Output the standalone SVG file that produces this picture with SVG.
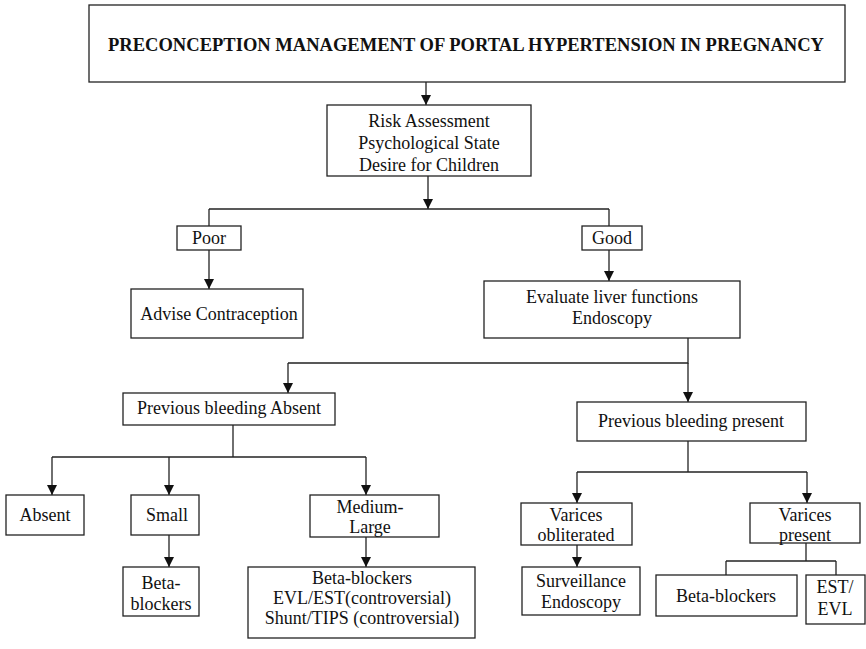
<svg xmlns="http://www.w3.org/2000/svg" width="866" height="649" viewBox="0 0 866 649">
<defs>
<marker id="ah" viewBox="0 0 10 10" refX="10" refY="5" markerWidth="10" markerHeight="10" markerUnits="userSpaceOnUse" orient="auto">
<path d="M0,0 L10,5 L0,10 Z" fill="#111"/>
</marker>
<style>
rect{fill:#fff;stroke:#222;stroke-width:1.3}
text{font-family:"Liberation Serif","Times New Roman",serif;font-size:18px;fill:#111;text-anchor:middle}
.t{font-weight:bold;font-size:19px}
#connectors path{fill:none;stroke:#222;stroke-width:1.3}
.a{marker-end:url(#ah)}
</style>
</defs>
<rect x="0" y="0" width="866" height="649" style="fill:#fff;stroke:none"/>
<g id="connectors">
<path class="a" d="M426,82 V105"/>
<path class="a" d="M428,176 V209"/>
<path d="M209,209 H609"/>
<path d="M209,209 V226"/>
<path d="M609,209 V226"/>
<path class="a" d="M209,250 V289"/>
<path class="a" d="M609,250 V281"/>
<path d="M688,338 V363 H288"/>
<path class="a" d="M288,363 V393"/>
<path class="a" d="M688,363 V402"/>
<path d="M233,425 V457"/>
<path d="M52,457 H366"/>
<path class="a" d="M52,457 V495"/>
<path class="a" d="M169,457 V495"/>
<path class="a" d="M366,457 V495"/>
<path class="a" d="M169,535 V567"/>
<path class="a" d="M366,537 V567"/>
<path d="M688,441 V472"/>
<path d="M577,472 H807"/>
<path class="a" d="M577,472 V503"/>
<path class="a" d="M807,472 V503"/>
<path class="a" d="M577,545 V567"/>
<path d="M806,543 V561"/>
<path d="M726,561 H836"/>
<path d="M726,561 V575"/>
<path d="M836,561 V575"/>
</g>
<g id="title"><rect x="89" y="5" width="756" height="77"/><text class="t" x="466" y="51" textLength="716" lengthAdjust="spacingAndGlyphs">PRECONCEPTION MANAGEMENT OF PORTAL HYPERTENSION IN PREGNANCY</text></g>
<g id="risk"><rect x="327" y="105" width="204" height="71"/><text x="429" y="127">Risk Assessment</text><text x="429" y="149">Psychological State</text><text x="429" y="171">Desire for Children</text></g>
<g id="poor"><rect x="177" y="226" width="64" height="24"/><text x="209" y="244">Poor</text></g>
<g id="good"><rect x="582" y="226" width="60" height="24"/><text x="612" y="244">Good</text></g>
<g id="advise"><rect x="131" y="289" width="172" height="49"/><text x="219" y="320">Advise Contraception</text></g>
<g id="evaluate"><rect x="484" y="281" width="256" height="57"/><text x="612" y="303">Evaluate liver functions</text><text x="612" y="324">Endoscopy</text></g>
<g id="prevAbsent"><rect x="123" y="393" width="212" height="32"/><text x="229" y="414">Previous bleeding Absent</text></g>
<g id="prevPresent"><rect x="577" y="402" width="229" height="39"/><text x="691" y="427">Previous bleeding present</text></g>
<g id="absent"><rect x="6" y="495" width="78" height="40"/><text x="45" y="521">Absent</text></g>
<g id="small"><rect x="131" y="495" width="68" height="40"/><text x="167" y="521">Small</text></g>
<g id="mediumLarge"><rect x="310" y="495" width="129" height="42"/><text x="370" y="513">Medium-</text><text x="370" y="533">Large</text></g>
<g id="betaSmall"><rect x="123" y="567" width="76" height="49"/><text x="161" y="589">Beta-</text><text x="161" y="610">blockers</text></g>
<g id="mlTreatment"><rect x="248" y="567" width="227" height="71"/><text x="362" y="584">Beta-blockers</text><text x="362" y="604">EVL/EST(controversial)</text><text x="362" y="624">Shunt/TIPS (controversial)</text></g>
<g id="varObl"><rect x="521" y="503" width="111" height="42"/><text x="576" y="521">Varices</text><text x="576" y="541">obliterated</text></g>
<g id="surv"><rect x="522" y="567" width="118" height="48"/><text x="581" y="587">Surveillance</text><text x="581" y="608">Endoscopy</text></g>
<g id="varPres"><rect x="750" y="503" width="110" height="40"/><text x="805" y="521">Varices</text><text x="805" y="541">present</text></g>
<g id="betaPres"><rect x="656" y="575" width="141" height="41"/><text x="726" y="602">Beta-blockers</text></g>
<g id="estEvl"><rect x="806" y="575" width="59" height="49"/><text x="835" y="593">EST/</text><text x="835" y="615">EVL</text></g>
</svg>
